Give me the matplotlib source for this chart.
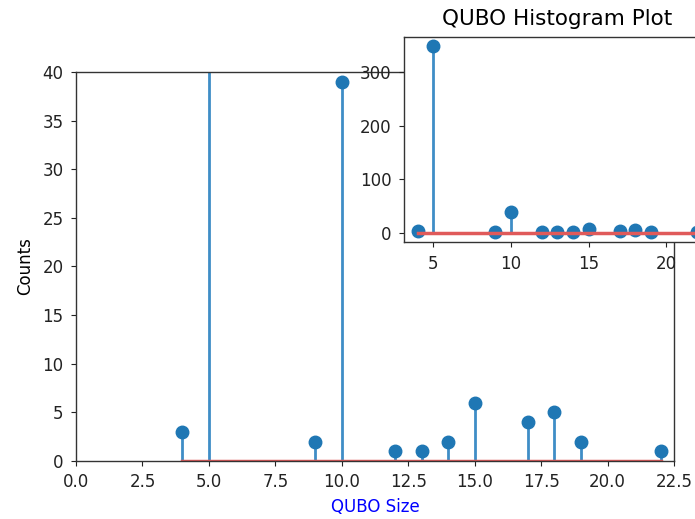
import matplotlib
matplotlib.use("Agg")
import matplotlib.pyplot as plt

# QUBO problem sizes and how many times each occurs
qubo_sizes = [4, 5, 9, 10, 12, 13, 14, 15, 17, 18, 19, 22]
counts = [3, 349, 2, 39, 1, 1, 2, 6, 4, 5, 2, 1]

STEM_COLOR = "#3f8dc6"
MARKER_COLOR = "#1f77b4"
BASE_COLOR = "#e05a5a"


def draw_stems(axis):
    markerline, stemlines, baseline = axis.stem(qubo_sizes, counts)
    markerline.set_markersize(9)
    markerline.set_color(MARKER_COLOR)
    stemlines.set_linewidth(2.0)
    stemlines.set_color(STEM_COLOR)
    baseline.set_linewidth(2.5)
    baseline.set_color(BASE_COLOR)


fig = plt.figure(figsize=(6.95, 5.19), dpi=100)

# Main axes: zoomed view on the low counts
ax = fig.add_axes([0.1094, 0.1118, 0.8604, 0.7495])
draw_stems(ax)
ax.set_xlim(0, 22.5)
ax.set_ylim(0, 40)
ax.set_xlabel("QUBO Size", color="blue", fontsize=12, labelpad=5)
ax.set_ylabel("Counts", fontsize=12, labelpad=6)
ax.tick_params(labelsize=12, colors="#222222", pad=5.5)

# Inset axes: the full range of counts
inset = fig.add_axes([0.5813, 0.5337, 0.4417, 0.395])
draw_stems(inset)
inset.set_title("QUBO Histogram Plot", fontsize=15.5, pad=8.5)
inset.tick_params(labelsize=12, colors="#222222", pad=5.5)

for a in (ax, inset):
    for s in a.spines.values():
        s.set_color("#333333")
        s.set_linewidth(1.0)

fig.savefig("out.png", dpi=100)
